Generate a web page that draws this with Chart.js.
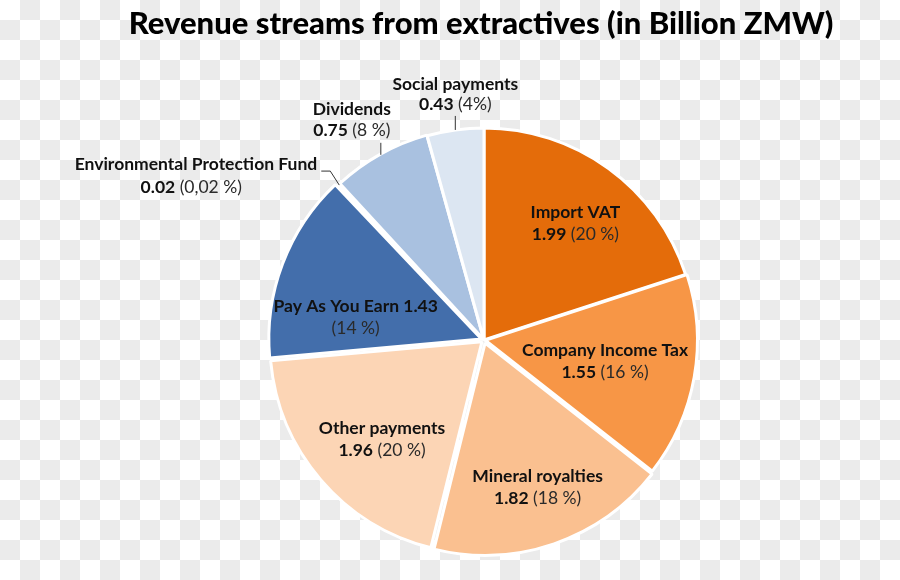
<!DOCTYPE html>
<html><head><meta charset="utf-8">
<script src="https://cdn.jsdelivr.net/npm/chart.js@4"></script>
<style>
html,body{margin:0;padding:0;}
body{width:900px;height:580px;overflow:hidden;
 background:repeating-conic-gradient(#ebebeb 0 25%, #ffffff 0 50%) 0 0/40px 40px;}
#wrap{position:absolute;left:0;top:0;width:900px;height:580px;}
</style></head>
<body>
<div id="wrap"><canvas id="c" width="900" height="580"></canvas></div>
<script>
// ---- data ----
const titleText = 'Revenue streams from extractives (in Billion ZMW)';
const categories = ['Import VAT','Company Income Tax','Mineral royalties','Other payments','Pay As You Earn','Environmental Protection Fund','Dividends','Social payments'];
const values = [1.99, 1.55, 1.82, 1.96, 1.43, 0.02, 0.75, 0.43];
const valueLabels = ['1.99','1.55','1.82','1.96','1.43','0.02','0.75','0.43'];
const percentLabels = ['(20 %)','(16 %)','(18 %)','(20 %)','(14 %)','(0,02 %)','(8 %)','(4%)'];

// ---- styles ----
const colors = ['#E46C0A','#F79646','#FAC090','#FCD5B5','#436EAB','#2C7FD6','#A9C1E0','#DCE6F2'];
const offsets = [0, 5, 13, 11, 11, 2, 2, 0];
const FONT = 'Lato, "Open Sans", sans-serif';
const boldFont = 'bold 17.5px ' + FONT;
const regFont = '17.5px ' + FONT;
// label placement per slice (style config): inside labels use radius fraction + angle nudge (deg)
const placement = [
  {type:'inside', r:0.70, da:2},
  {type:'inside', r:0.58, da:0},
  {type:'inside', r:0.74, da:-1},
  {type:'inside', r:0.67, da:-3.5},
  {type:'inside', r:0.615, da:-10.5, valueOnFirst:true},
  {type:'outside', leader:[[-9,-14],[-18,-14]], line1:{dx:-4, dy:-7, align:'right'}, line2:{dx:-130, dy:16, align:'center'}},
  {type:'outside', leader:[[0,-12]], line1:{dx:-29, dy:-33, align:'center'}, line2:{dx:-29, dy:-12, align:'center'}},
  {type:'outside', leader:[[0,-14]], line1:{dx:0, dy:-32, align:'center'}, line2:{dx:0, dy:-12, align:'center'}}
];

function drawParts(ctx, parts, x, y, align){
  let total = 0;
  parts.forEach(p=>{ ctx.font = p.f; p.w = ctx.measureText(p.t).width; total += p.w; });
  let sx = align==='center' ? x - total/2 : (align==='right' ? x - total : x);
  ctx.textAlign = 'left';
  parts.forEach(p=>{ ctx.font = p.f; ctx.fillStyle = p.c; ctx.fillText(p.t, sx, y); sx += p.w; });
}

const labelPlugin = {
  id:'sliceLabels',
  afterDatasetsDraw(chart){
    const ctx = chart.ctx;
    const meta = chart.getDatasetMeta(0);
    ctx.save();
    ctx.textBaseline = 'middle';
    // title
    ctx.font = '900 31px ' + FONT;
    ctx.fillStyle = '#000';
    ctx.textAlign = 'center';
    ctx.fillText(titleText, 481, 24);

    meta.data.forEach((arc, i) => {
      const p = arc.getProps(['x','y','startAngle','endAngle','outerRadius'], true);
      const mid = (p.startAngle + p.endAngle) / 2;
      const pl = placement[i];
      const bold = '#111', reg = '#2a2a2a';
      let l1, l2;
      if (pl.valueOnFirst) {
        l1 = [{t:categories[i] + ' ' + valueLabels[i], f:boldFont, c:bold}];
        l2 = [{t:percentLabels[i], f:regFont, c:reg}];
      } else {
        l1 = [{t:categories[i], f:boldFont, c:bold}];
        l2 = [{t:valueLabels[i], f:boldFont, c:bold}, {t:' ' + percentLabels[i], f:regFont, c:reg}];
      }
      if (pl.type === 'inside') {
        const a = mid + pl.da * Math.PI / 180;
        const r = p.outerRadius * pl.r;
        const cx = p.x + Math.cos(a) * r, cy = p.y + Math.sin(a) * r;
        drawParts(ctx, l1, cx, cy - 11, 'center');
        drawParts(ctx, l2, cx, cy + 11, 'center');
      } else {
        const ex = p.x + Math.cos(mid) * p.outerRadius;
        const ey = p.y + Math.sin(mid) * p.outerRadius;
        ctx.beginPath();
        ctx.strokeStyle = '#333';
        ctx.lineWidth = 1;
        ctx.moveTo(ex, ey);
        let lx = ex, ly = ey;
        pl.leader.forEach(pt => { lx = ex + pt[0]; ly = ey + pt[1]; ctx.lineTo(lx, ly); });
        ctx.stroke();
        drawParts(ctx, l1, lx + pl.line1.dx, ly + pl.line1.dy, pl.line1.align);
        drawParts(ctx, l2, lx + pl.line2.dx, ly + pl.line2.dy, pl.line2.align);
      }
    });
    ctx.restore();
  }
};

new Chart(document.getElementById('c'), {
  type: 'pie',
  data: {
    labels: categories,
    datasets: [{
      data: values,
      backgroundColor: colors,
      borderColor: '#ffffff',
      borderWidth: 3,
      offset: offsets,
      hoverOffset: 0,
      radius: 212
    }]
  },
  options: {
    responsive: false,
    devicePixelRatio: 1,
    animation: false,
    events: [],
    layout: { padding: { left: 68, top: 100, right: 0, bottom: 0 } },
    plugins: { legend: { display: false }, title: { display: false }, tooltip: { enabled: false } }
  },
  plugins: [labelPlugin]
});
</script>
</body></html>
